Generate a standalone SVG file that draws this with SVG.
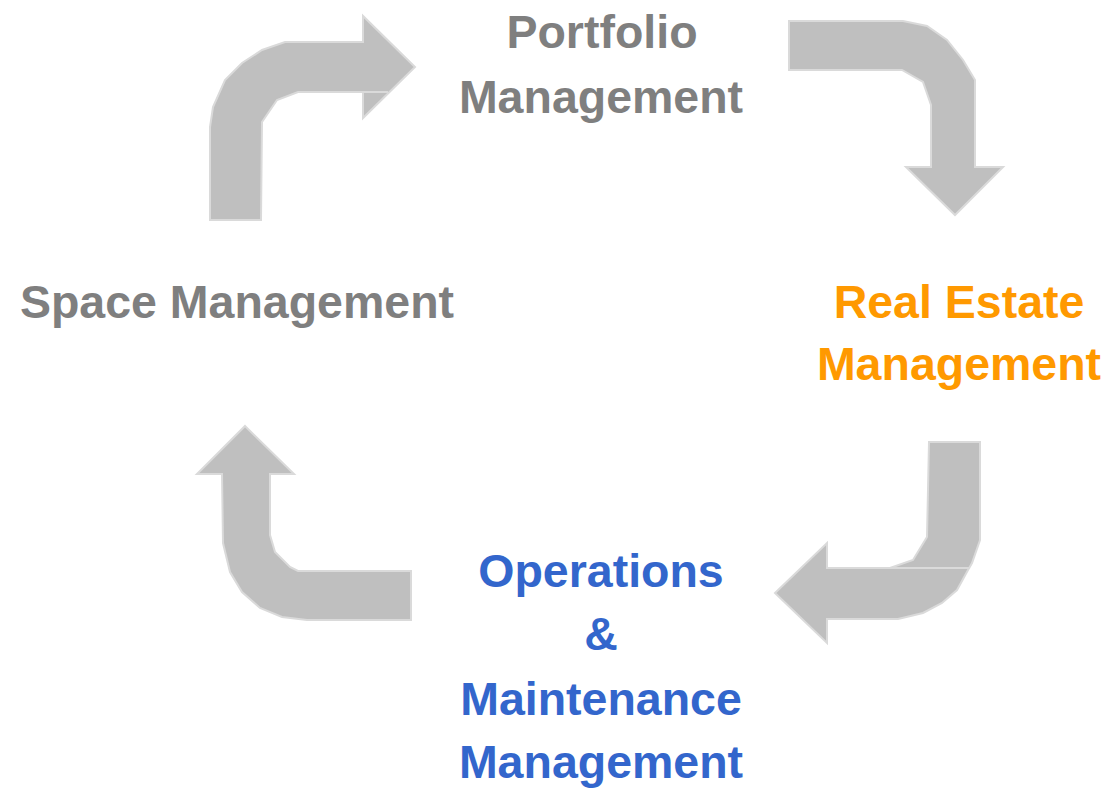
<svg xmlns="http://www.w3.org/2000/svg" width="1117" height="790" viewBox="0 0 1117 790">
<style>
.arr{fill:#bfbfbf;stroke:#dadada;stroke-width:2;stroke-linejoin:miter}
.seam{stroke:#dadada;stroke-width:2;fill:none}
text{font-family:"Liberation Sans",Arial,sans-serif;font-weight:bold;font-size:46.5px;text-anchor:middle}
.gray{fill:#7f7f7f}
.orange{fill:#ff9900}
.blue{fill:#3366cc}
</style>
<rect width="1117" height="790" fill="#ffffff"/>
<g id="connectors">
<g id="arrow-space-to-portfolio">
<polygon class="arr" points="210,220 210,127 213,107 225,80 242,63 262,50 285,42 363,42 363,16 415,67 363,118 363,92 298,92 277,100 262,122 261,220"/>
<line class="seam" x1="363" y1="92" x2="388" y2="92"/>
</g>
<g id="arrow-portfolio-to-realestate">
<polygon class="arr" points="789,21 903,21 927,26 947,40 963,60 975,80 975,167 1003,167 955,215 906,167 931,167 931,105 923,82 902,70 789,70"/>
</g>
<g id="arrow-realestate-to-operations">
<polygon class="arr" points="929,442 980,442 980,540 972,563 968,570 957,590 942,603 923,613 898,619 827,619 827,643 775,593 827,543 827,568 890,568 913,560 927,537"/>
<line class="seam" x1="890" y1="568" x2="970" y2="568"/>
</g>
<g id="arrow-operations-to-space">
<polygon class="arr" points="245,426 294,474 270,474 270,535 275,552 290,567 298,571 411,571 411,620 307,620 282,617 260,608 242,592 230,572 223,543 222,474 197,474"/>
</g>
</g>
<g id="node-portfolio">
<text class="gray" x="602" y="48">Portfolio</text>
<text class="gray" x="601" y="113">Management</text>
</g>
<g id="node-realestate">
<text class="orange" x="959" y="318">Real Estate</text>
<text class="orange" x="959" y="380">Management</text>
</g>
<g id="node-operations">
<text class="blue" x="601" y="587">Operations</text>
<text class="blue" x="601" y="650">&amp;</text>
<text class="blue" x="601" y="715">Maintenance</text>
<text class="blue" x="601" y="778">Management</text>
</g>
<g id="node-space">
<text class="gray" x="237" y="318">Space Management</text>
</g>
</svg>
